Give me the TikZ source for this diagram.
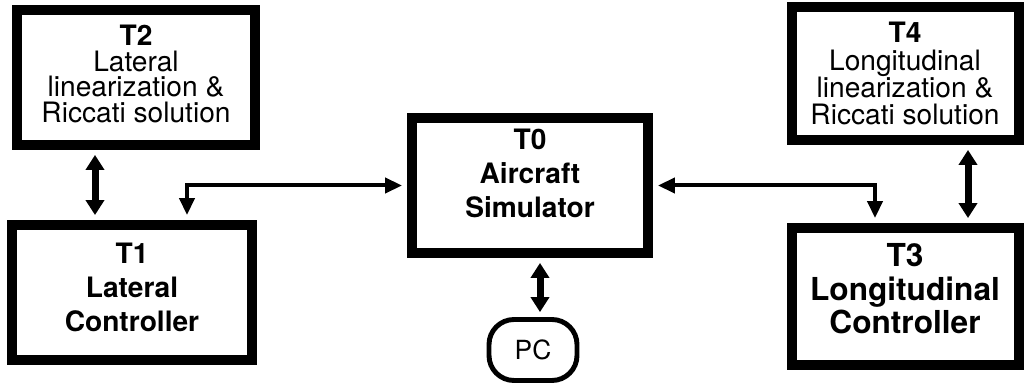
\documentclass[tikz,border=0pt]{standalone}
\usepackage{fontspec}
\setmainfont{TeX Gyre Heros}
\usetikzlibrary{arrows.meta,positioning,calc}

\begin{document}
\begin{tikzpicture}[
      every node/.style={align=center, inner sep=0pt},
      task/.style={rectangle, draw, line width=5.7pt},
      solver/.style={task, font=\fontsize{16}{14.5}\selectfont},
      ctrl/.style={task, font=\bfseries\fontsize{16}{19.6}\selectfont},
      pcbox/.style={rectangle, draw, rounded corners=0.5cm, line width=2.8pt, font=\fontsize{15}{15}\selectfont},
      bus/.style={line width=0.14cm, shorten <=2.8pt, shorten >=2.8pt,
        {Triangle[length=0.3cm,width=0.36cm]}-{Triangle[length=0.3cm,width=0.36cm]}},
      link/.style={line width=0.08cm, shorten <=2.8pt, shorten >=2.8pt,
        {Triangle[length=0.34cm,width=0.3cm]}-{Triangle[length=0.34cm,width=0.3cm]}}
    ]
      \useasboundingbox (0,0) rectangle (20.52,7.68);

      % tasks
      \node[solver, minimum width=4.76cm, minimum height=2.7cm] (T2) at (2.72,6.13)
        {\textbf{T2}\\Lateral\\linearization \&\\Riccati solution\\[-10pt]\mbox{}};
      \node[ctrl, minimum width=4.8cm, minimum height=2.7cm] (T1) at (2.64,1.83)
        {T1\\Lateral\\Controller\\[-13.6pt]\mbox{}};
      \node[ctrl, font=\bfseries\fontsize{16}{19.5}\selectfont,
        minimum width=4.72cm, minimum height=2.7cm] (T0) at (10.6,3.97)
        {T0\\Aircraft\\Simulator\\[-5.8pt]\mbox{}};
      \node[pcbox, minimum width=1.76cm, minimum height=1.22cm] (PC) at (10.66,0.68) {PC};
      \node[solver, font=\fontsize{16}{15.4}\selectfont,
        minimum width=4.54cm, minimum height=2.66cm] (T4) at (18.1,6.21)
        {\textbf{T4}\\Longitudinal\\linearization \&\\Riccati solution};
      \node[ctrl, font=\bfseries\fontsize{18}{19}\selectfont,
        minimum width=4.54cm, minimum height=2.74cm] (T3) at (18.1,1.75)
        {T3\\Longitudinal\\Controller\\[-10pt]\mbox{}};

      % connections
      \draw[bus] ([xshift=-0.82cm]T2.south) -- ([xshift=-0.74cm]T1.north);
      \draw[bus] ([xshift=1.26cm]T4.south) -- ([xshift=1.26cm]T3.north);
      \draw[bus] ([xshift=0.2cm]T0.south) -- ([xshift=0.14cm]PC.north);
      \draw[link] (T0.west) -| ([xshift=1.1cm]T1.north);
      \draw[link] (T0.east) -| ([xshift=-0.6cm]T3.north);
\end{tikzpicture}
\end{document}
